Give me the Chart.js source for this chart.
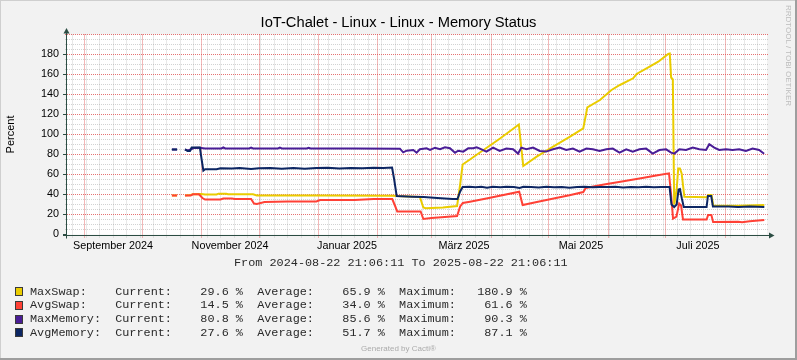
<!DOCTYPE html>
<html>
<head>
<meta charset="utf-8">
<script src="https://cdn.jsdelivr.net/npm/chart.js@4.4.1/dist/chart.umd.min.js"></script>
<style>
html,body{margin:0;padding:0;background:#F2F2F2;}
#wrap{position:relative;width:797px;height:360px;overflow:hidden;}
#c{position:absolute;left:0;top:0;}
.mono{position:absolute;font-family:"Liberation Mono","DejaVu Sans Mono",monospace;font-size:11.83px;line-height:14px;color:#2a2a2a;white-space:pre;}
.sw{position:absolute;width:6px;height:7px;border:1px solid #3a3a3a;}
#gen{position:absolute;left:0;width:797px;top:344px;text-align:center;font-family:"Liberation Sans",Arial,sans-serif;font-size:8px;line-height:10px;color:#ABABAB;}
#wm{position:absolute;left:784px;top:5px;writing-mode:vertical-rl;font-family:"Liberation Sans",Arial,sans-serif;font-size:8px;line-height:9px;color:#BDBDBD;}
</style>
</head>
<body>
<div id="wrap">
<canvas id="c" width="797" height="360"></canvas>
<div id="wm">RRDTOOL / TOBI OETIKER</div>
<div id="gen">Generated by Cacti®</div>
</div>
<script>
// ---------- DATA (x = days since 2024-08-22 21:06:11) ----------
const titleText = 'IoT-Chalet - Linux - Linux - Memory Status';
const yAxisTitle = 'Percent';
const periodText = 'From 2024-08-22 21:06:11 To 2025-08-22 21:06:11';
const seriesNames = ['MaxSwap', 'AvgSwap', 'MaxMemory', 'AvgMemory'];
const seriesColors = ['#EACC00', '#FF4136', '#4A1D96', '#0D2663'];

const xLabelDays = [24, 85, 146, 207, 268, 329];
const xLabelNames = ['September 2024', 'November 2024', 'Januar 2025', 'März 2025', 'Mai 2025', 'Juli 2025'];
const monthStartDays = [9.12, 39.12, 70.12, 100.12, 131.12, 162.12, 190.12, 221.12, 251.12, 282.12, 312.12, 343.12];
const firstMondayDay = 3.12;
const periodDays = 365;
const yMax = 200;
const yStep = 20;
const yMinorStep = 5;

const maxSwap = [[54.7,39],[57.4,39],[59,null],[61.5,39],[64.5,39.5],[65.6,40.2],[70,40.5],[72,40],[78,40],[79,40.8],[83,40.8],[84,40.2],[97,40.2],[99,39],[130,39],[170,38.8],[172,38.5],[184,37.5],[185.8,27],[187,26.3],[196,27],[203.4,28.5],[205,50],[206.3,70],[210.1,75],[215.3,82],[225.8,96],[235.6,110],[237.9,68.5],[244.9,77.8],[253.5,87.8],[262.3,97.8],[269.2,106.2],[270.4,118],[271.3,127],[277.9,134.5],[283.9,144.5],[288.3,149.5],[295.2,156.2],[297,160.5],[302.2,166.2],[308.3,172.8],[313.5,180.5],[314.3,181],[315,157],[315.9,155],[316.6,30],[317.9,45],[318.7,66],[319.6,66],[320.5,61],[321.9,37.8],[333.5,37.2],[334.4,39.5],[336.1,39.5],[337,28.8],[350,28.8],[363.6,29.5]];

const avgSwap = [[54.7,39],[57.4,39],[59,null],[61.5,39],[64.5,39],[65.6,40.2],[68.8,40.2],[70.6,36.5],[72,35],[80,35],[81.5,36],[86,36],[87.5,35.5],[96,35.5],[97.5,31],[99,30.5],[103,32.5],[115,33],[130,33],[132,34.5],[150,34.5],[160,35.5],[169.6,35.5],[171.2,28],[172.2,23],[184.4,23],[185.8,15.5],[190,16.5],[197,17.5],[203.4,18.5],[205,28],[206.4,31.5],[210.1,32.8],[220,36.5],[235.8,42.8],[237.6,29.5],[245,32.5],[255,36.5],[262,39.2],[269.2,42.5],[270.5,46.5],[280,50],[290.9,53.5],[300,56.5],[308,59.2],[313.9,61.2],[315,40],[316,16],[317.8,18],[319.2,31],[320.2,29],[321.2,15],[333.5,15],[334.3,19.5],[336,19.5],[336.9,12.5],[350,12.8],[352,12.3],[356,13.3],[363.6,14.5]];

const maxMemory = [[54.7,85],[57.4,85],[59,null],[61.5,85],[63,84],[64.5,85],[66,86.5],[69,86.8],[72,86],[80.5,86],[81.5,87],[82.5,86],[95,86],[96,86.8],[97,86],[110,86],[111,86.8],[112,86],[125,86],[126,86.7],[127,86],[150,86],[173.6,85.8],[175.3,82.2],[177.1,83.8],[180.6,84.5],[182.3,81.8],[184,85.2],[187.5,86.2],[189.3,84.5],[191.9,86.8],[194.5,85.2],[197.1,87.2],[199.7,86.2],[202.3,81.8],[204,83.8],[206.6,82.8],[209.2,86.2],[211.8,86.2],[213.6,87.2],[215.3,85.9],[218.7,82.9],[222.2,86.9],[225.6,83.5],[229.1,85.9],[232.6,85.2],[235.2,80.9],[236.9,86.9],[239.5,85.2],[243,86.9],[246.5,83.5],[249.9,82.9],[253.4,85.2],[256.9,86.9],[260.3,84.5],[263.8,85.9],[267.3,82.9],[270.8,85.9],[274.2,85.2],[277.7,83.5],[281.2,85.2],[284.6,85.9],[288.1,81.9],[291.6,85.2],[295,82.9],[298.5,85.2],[302,85.9],[305.4,80.9],[308.9,84.5],[312.4,85.2],[315,81.9],[316.7,80.9],[319.3,85.2],[322.8,84.5],[326.3,86.9],[329.7,85.2],[333.2,84.5],[334.9,90.3],[337.5,86.9],[340.1,84.5],[343.6,85.2],[347,84.5],[350.5,85.2],[354,83.5],[357.5,85.9],[360.9,84.5],[363.5,80.8]];

const avgMemory = [[54.7,85],[57.4,85],[59,null],[61.5,85.2],[62.9,83.5],[64.1,83.5],[65,87],[69.3,87],[70.2,75],[71.1,63.8],[72,65.2],[78,65.2],[80,66.2],[86,66],[90,66.5],[96,65.5],[100,66.2],[106,66.5],[112,65.8],[118,66.6],[124,65.8],[130,66.4],[136,66.8],[142,66],[148,66.6],[154,66.2],[160,66.8],[165,66.5],[169.5,67],[170.6,55],[171.9,38.5],[180,37.8],[186,37.5],[193,36.5],[201,35.5],[203.6,35.5],[205,43],[206.3,47.5],[210,47.8],[213,47.2],[216,47.8],[219,46.8],[222,47.8],[226,47.2],[229,47.8],[233,47.5],[236,46.5],[238,47.8],[242,47.5],[246,47],[250,47.8],[254,47.2],[258,47.6],[262,46.8],[266,47.5],[270,47.8],[274,47.2],[278,47.6],[282,47.4],[286,47.8],[290,47],[294,47.6],[298,47.3],[302,47.8],[306,47.2],[310,47.6],[314.2,47.4],[315.2,30],[316.6,27.5],[317.9,30],[318.9,45],[319.6,45.5],[320.6,36],[321.6,27.5],[333.5,27.5],[334.2,38.5],[335.9,38.5],[336.8,28],[345,28],[350,27.5],[356,28],[363.6,27.6]];

const legendCurrent = [29.6, 14.5, 80.8, 27.6];
const legendAverage = [65.9, 34.0, 85.6, 51.7];
const legendMaximum = [180.9, 61.6, 90.3, 87.1];

// ---------- LEGEND (HTML text) ----------
const wrap = document.getElementById('wrap');
function addDiv(cls, text, left, top, extra) {
  const d = document.createElement('div');
  d.className = cls; d.textContent = text || '';
  d.style.left = left + 'px'; d.style.top = top + 'px';
  if (extra) Object.assign(d.style, extra);
  wrap.appendChild(d); return d;
}
addDiv('mono', periodText, 234, 255.7);
const rowCenters = [291.7, 305.3, 319, 332.7];
seriesNames.forEach((n, i) => {
  const row = (n + ':').padEnd(12) + 'Current:' + legendCurrent[i].toFixed(1).padStart(8) + ' %  ' +
    'Average:' + legendAverage[i].toFixed(1).padStart(8) + ' %  ' +
    'Maximum:' + legendMaximum[i].toFixed(1).padStart(8) + ' %';
  addDiv('mono', row, 30, rowCenters[i] - 7);
  addDiv('sw', '', 15, rowCenters[i] - 4.5, {background: seriesColors[i]});
});

// ---------- CHART ----------
const AXIS = '#2C4D43';
const rrdPlugin = {
  id: 'rrd',
  beforeDraw(chart) {
    const {ctx, chartArea: a, width, height} = chart;
    ctx.save();
    ctx.fillStyle = '#F2F2F2'; ctx.fillRect(0, 0, width, height);
    ctx.fillStyle = '#CFCFCF'; ctx.fillRect(0, 0, width, 1); ctx.fillRect(0, 0, 1, height);
    ctx.fillStyle = '#9E9E9E'; ctx.fillRect(0, height - 2, width, 2); ctx.fillRect(width - 2, 0, 2, height);
    ctx.fillStyle = '#FFFFFF'; ctx.fillRect(a.left, a.top, a.right - a.left, a.bottom - a.top);
    ctx.restore();
  },
  beforeDatasetsDraw(chart) {
    const {ctx, chartArea: a, scales: {x, y}} = chart;
    const px = d => Math.floor(x.getPixelForValue(d)) + 0.5;
    const py = v => Math.floor(y.getPixelForValue(v)) + 0.5;
    ctx.save();
    ctx.lineWidth = 1;
    ctx.setLineDash([1, 1]);
    // minor grid
    ctx.strokeStyle = 'rgba(143,143,143,0.4)';
    ctx.beginPath();
    for (let v = yMinorStep; v < yMax; v += yMinorStep) {
      if (v % yStep === 0) continue;
      ctx.moveTo(a.left - 2, py(v)); ctx.lineTo(a.right + 2, py(v));
    }
    for (let d = firstMondayDay; d < periodDays; d += 7) {
      ctx.moveTo(px(d), a.top); ctx.lineTo(px(d), a.bottom + 3);
    }
    ctx.stroke();
    // major grid
    ctx.strokeStyle = 'rgba(222,79,79,0.8)';
    ctx.beginPath();
    for (let v = yStep; v <= yMax; v += yStep) {
      ctx.moveTo(a.left - 2, py(v)); ctx.lineTo(a.right + 2, py(v));
    }
    monthStartDays.forEach(d => { ctx.moveTo(px(d), a.top); ctx.lineTo(px(d), a.bottom + 3); });
    ctx.stroke();
    ctx.restore();
  },
  afterDatasetsDraw(chart) {
    const {ctx, chartArea: a, scales: {y}} = chart;
    ctx.save();
    ctx.strokeStyle = AXIS; ctx.fillStyle = AXIS; ctx.lineWidth = 1;
    const ax = Math.floor(a.left) - 0.5;
    const ay = Math.floor(a.bottom) + 1.5;
    ctx.beginPath();
    ctx.moveTo(ax, a.bottom + 4); ctx.lineTo(ax, a.top - 3);
    ctx.moveTo(a.left - 4, ay); ctx.lineTo(a.right + 4, ay);
    for (let v = 0; v < yMax; v += yStep) {
      const p = Math.floor(y.getPixelForValue(v)) + 0.5;
      ctx.moveTo(a.left - 4, p); ctx.lineTo(a.left - 1, p);
    }
    ctx.stroke();
    // arrows
    ctx.beginPath();
    ctx.moveTo(ax - 3, a.top - 1); ctx.lineTo(ax + 3, a.top - 1); ctx.lineTo(ax, a.top - 6.5); ctx.closePath();
    ctx.fill();
    ctx.beginPath();
    ctx.moveTo(a.right + 2, ay - 3); ctx.lineTo(a.right + 2, ay + 3); ctx.lineTo(a.right + 7.5, ay); ctx.closePath();
    ctx.fill();
    ctx.restore();
  }
};

Chart.defaults.font.family = '"Liberation Sans", Arial, sans-serif';
Chart.defaults.color = '#000';

const toPts = arr => arr.map(p => ({x: p[0], y: p[1]}));
const seriesData = [maxSwap, avgSwap, maxMemory, avgMemory];
// first dataset is drawn on top in Chart.js, so reverse legend order
const datasets = [3, 2, 1, 0].map(i => ({
  label: seriesNames[i],
  data: toPts(seriesData[i]),
  borderColor: seriesColors[i],
  backgroundColor: seriesColors[i],
  borderWidth: 2,
  pointRadius: 0,
  tension: 0,
  spanGaps: false,
  fill: false
}));

new Chart(document.getElementById('c'), {
  type: 'line',
  data: {datasets},
  options: {
    responsive: false,
    animation: false,
    devicePixelRatio: 1,
    parsing: false,
    layout: {padding: {top: 5, left: 0, right: 0, bottom: 100}},
    plugins: {
      legend: {display: false},
      tooltip: {enabled: false},
      title: {
        display: true, text: titleText, color: '#000',
        font: {size: 14.7, weight: 'normal', lineHeight: 1.2},
        padding: {top: 9, bottom: 2.86}
      }
    },
    scales: {
      x: {
        type: 'linear', min: 0, max: periodDays,
        afterBuildTicks: s => { s.ticks = xLabelDays.map(v => ({value: v})); },
        ticks: {autoSkip: false, maxRotation: 0, padding: 5, font: {size: 10.8}, color: '#000',
          callback: (v, i) => xLabelNames[i]},
        grid: {display: false, drawTicks: false},
        border: {display: false},
        afterFit: s => { s.height = 25.5; }
      },
      y: {
        min: 0, max: yMax,
        ticks: {stepSize: yStep, padding: 8, font: {size: 10.8}, color: '#000',
          callback: v => (v === yMax ? '' : String(v))},
        grid: {display: false, drawTicks: false},
        border: {display: false},
        title: {display: true, text: yAxisTitle, color: '#000', font: {size: 11}, padding: {top: 4, bottom: 0}},
        afterFit: s => { s.width = 67; }
      },
      y2: {
        position: 'right', min: 0, max: yMax,
        ticks: {display: false},
        grid: {display: false, drawTicks: false},
        border: {display: false},
        afterFit: s => { s.width = 30; }
      }
    }
  },
  plugins: [rrdPlugin]
});
</script>
</body>
</html>
